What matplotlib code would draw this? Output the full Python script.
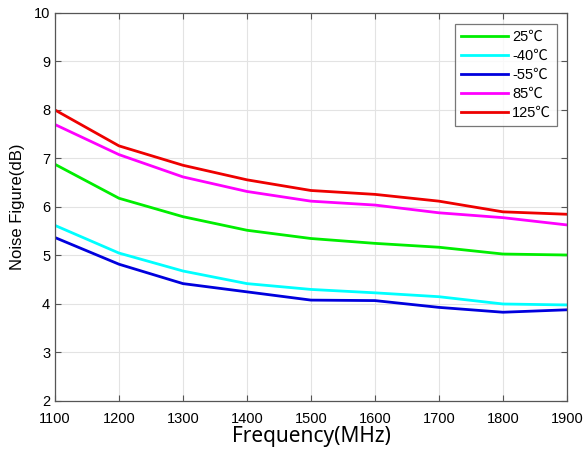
import numpy as np
import matplotlib
matplotlib.use('Agg')
from matplotlib import pyplot as plt

plt.rcParams['font.family'] = ['Liberation Sans', 'Noto Sans CJK SC', 'DejaVu Sans']

freq = [1100, 1200, 1300, 1400, 1500, 1600, 1700, 1800, 1900]
nf_25 = [6.88, 6.18, 5.80, 5.52, 5.35, 5.25, 5.17, 5.03, 5.01]
nf_m40 = [5.62, 5.05, 4.68, 4.42, 4.30, 4.23, 4.15, 4.00, 3.98]
nf_m55 = [5.37, 4.82, 4.42, 4.25, 4.08, 4.07, 3.93, 3.83, 3.88]
nf_85 = [7.70, 7.08, 6.62, 6.32, 6.12, 6.04, 5.88, 5.78, 5.63]
nf_125 = [8.00, 7.26, 6.86, 6.56, 6.34, 6.26, 6.12, 5.90, 5.85]

labels = ['25℃', '-40℃', '-55℃', '85℃', '125℃']
colors = ['#00ee00', '#00ffff', '#0000dd', '#ff00ff', '#ee0000']
series = [nf_25, nf_m40, nf_m55, nf_85, nf_125]

fig = plt.figure(figsize=(5.88, 4.59), dpi=100)
ax = fig.add_axes([0.0935, 0.1264, 0.8707, 0.8453])

for vals, c, lab in zip(series, colors, labels):
    ax.plot(freq, vals, color=c, linewidth=2, label=lab)

ax.set_xlim(1100, 1900)
ax.set_ylim(2, 10)
ax.set_xticks(np.arange(1100, 1901, 100))
ax.set_yticks(np.arange(2, 11, 1))
ax.grid(True, color='#e3e3e3', linewidth=0.8)
ax.tick_params(direction='in', labelsize=10.5, length=4, color='#555555', top=True, right=True)
ax.tick_params(axis='x', pad=8)
for s in ax.spines.values():
    s.set_color('#555555')
    s.set_linewidth(0.9)

ax.set_xlabel('Frequency(MHz)', fontsize=15, family=['Noto Sans', 'DejaVu Sans'], labelpad=0)
ax.set_ylabel('Noise Figure(dB)', fontsize=12, labelpad=6)

leg = ax.legend(loc='upper right', fontsize=10.5, frameon=True, fancybox=False,
                edgecolor='#555555', handlelength=3.2, handletextpad=0.3,
                labelspacing=0.35, borderpad=0.4, borderaxespad=0,
                bbox_to_anchor=(0.9805, 0.9716))
leg.get_frame().set_linewidth(0.9)

plt.savefig('out.png', dpi=100)
